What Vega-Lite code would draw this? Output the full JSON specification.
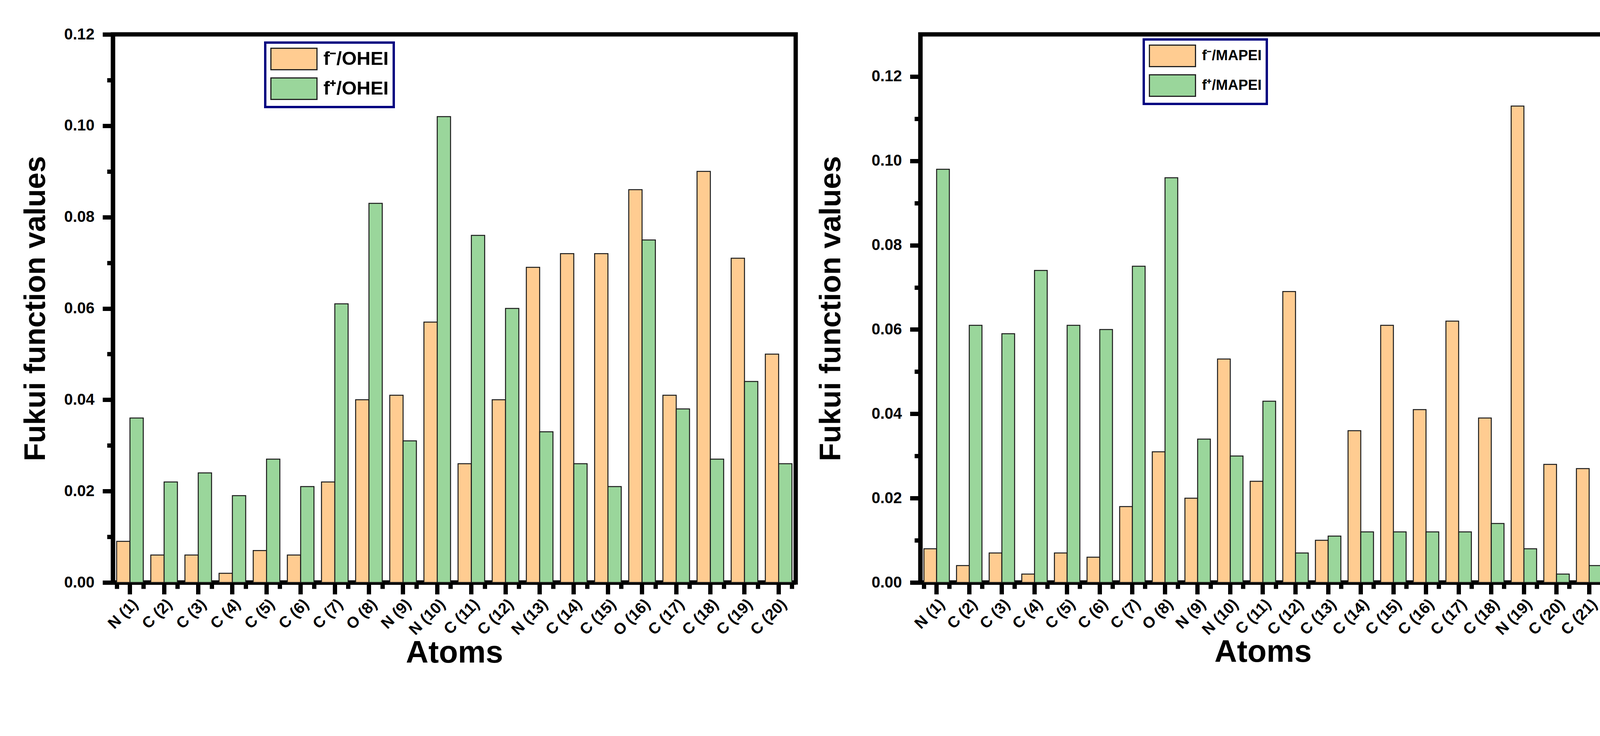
{
  "$schema": "https://vega.github.io/schema/vega-lite/v6.json",
  "padding": {"left": 48, "top": 62, "right": 0, "bottom": 0},
  "spacing": 41,
  "background": "white",
  "config": {
    "view": {"stroke": "black", "strokeWidth": 11},
    "axis": {"domainColor": "black", "tickColor": "black", "labelColor": "black", "titleColor": "black", "labelFont": "Liberation Sans", "titleFont": "Liberation Sans", "grid": false},
    "legend": {"strokeColor": "#000080", "strokeWidth": 6, "fillColor": "white", "padding": 13, "rowPadding": 8, "labelOffset": 78, "labelLimit": 0, "labelFont": "Liberation Sans", "labelFontWeight": "bold", "labelColor": "black", "symbolStrokeColor": "#222222", "symbolStrokeWidth": 3, "symbolOpacity": 1, "symbolType": "M-1,-1H3.29V1H-1Z", "symbolSize": 3025}
  },
  "resolve": {"scale": {"color": "independent", "y": "independent", "x": "independent"}, "legend": {"color": "independent"}},
  "hconcat": [
    {
      "width": 1748,
      "height": 1403,
      "data": {"values": [
        {"atom": "N (1)", "series": "f⁻/OHEI", "value": 0.009}, {"atom": "N (1)", "series": "f⁺/OHEI", "value": 0.036},
        {"atom": "C (2)", "series": "f⁻/OHEI", "value": 0.006}, {"atom": "C (2)", "series": "f⁺/OHEI", "value": 0.022},
        {"atom": "C (3)", "series": "f⁻/OHEI", "value": 0.006}, {"atom": "C (3)", "series": "f⁺/OHEI", "value": 0.024},
        {"atom": "C (4)", "series": "f⁻/OHEI", "value": 0.002}, {"atom": "C (4)", "series": "f⁺/OHEI", "value": 0.019},
        {"atom": "C (5)", "series": "f⁻/OHEI", "value": 0.007}, {"atom": "C (5)", "series": "f⁺/OHEI", "value": 0.027},
        {"atom": "C (6)", "series": "f⁻/OHEI", "value": 0.006}, {"atom": "C (6)", "series": "f⁺/OHEI", "value": 0.021},
        {"atom": "C (7)", "series": "f⁻/OHEI", "value": 0.022}, {"atom": "C (7)", "series": "f⁺/OHEI", "value": 0.061},
        {"atom": "O (8)", "series": "f⁻/OHEI", "value": 0.040}, {"atom": "O (8)", "series": "f⁺/OHEI", "value": 0.083},
        {"atom": "N (9)", "series": "f⁻/OHEI", "value": 0.041}, {"atom": "N (9)", "series": "f⁺/OHEI", "value": 0.031},
        {"atom": "N (10)", "series": "f⁻/OHEI", "value": 0.057}, {"atom": "N (10)", "series": "f⁺/OHEI", "value": 0.102},
        {"atom": "C (11)", "series": "f⁻/OHEI", "value": 0.026}, {"atom": "C (11)", "series": "f⁺/OHEI", "value": 0.076},
        {"atom": "C (12)", "series": "f⁻/OHEI", "value": 0.040}, {"atom": "C (12)", "series": "f⁺/OHEI", "value": 0.060},
        {"atom": "N (13)", "series": "f⁻/OHEI", "value": 0.069}, {"atom": "N (13)", "series": "f⁺/OHEI", "value": 0.033},
        {"atom": "C (14)", "series": "f⁻/OHEI", "value": 0.072}, {"atom": "C (14)", "series": "f⁺/OHEI", "value": 0.026},
        {"atom": "C (15)", "series": "f⁻/OHEI", "value": 0.072}, {"atom": "C (15)", "series": "f⁺/OHEI", "value": 0.021},
        {"atom": "O (16)", "series": "f⁻/OHEI", "value": 0.086}, {"atom": "O (16)", "series": "f⁺/OHEI", "value": 0.075},
        {"atom": "C (17)", "series": "f⁻/OHEI", "value": 0.041}, {"atom": "C (17)", "series": "f⁺/OHEI", "value": 0.038},
        {"atom": "C (18)", "series": "f⁻/OHEI", "value": 0.090}, {"atom": "C (18)", "series": "f⁺/OHEI", "value": 0.027},
        {"atom": "C (19)", "series": "f⁻/OHEI", "value": 0.071}, {"atom": "C (19)", "series": "f⁺/OHEI", "value": 0.044},
        {"atom": "C (20)", "series": "f⁻/OHEI", "value": 0.050}, {"atom": "C (20)", "series": "f⁺/OHEI", "value": 0.026}
      ]},
      "layer": [
        {
          "transform": [{"filter": {"field": "series", "equal": "f⁻/OHEI"}}],
          "mark": {"type": "bar", "stroke": "#1a1a1a", "strokeWidth": 2.5},
          "encoding": {
            "x": {"field": "atom", "type": "nominal", "sort": null, "title": "Atoms", "bandPosition": 0,
              "scale": {"paddingInner": 0.22, "paddingOuter": 0.11},
              "axis": {"orient": "bottom", "tickBand": "center", "labelAngle": -45, "labelFontSize": 40, "labelFontWeight": "bold", "labelPadding": 5, "tickSize": 30, "tickWidth": 11, "domainWidth": 11, "titleFontSize": 80, "titleFontWeight": "bold", "titlePadding": -2}},
            "x2": {"field": "atom", "bandPosition": 0.5},
            "y": {"field": "value", "type": "quantitative", "title": "Fukui function values", "stack": null,
              "scale": {"domain": [0, 0.12], "nice": false},
              "axis": {"orient": "left", "values": [0, 0.02, 0.04, 0.06, 0.08, 0.1, 0.12], "format": ".2f", "labelFontSize": 40, "labelFontWeight": "bold", "labelPadding": 21, "tickSize": 26.5, "tickWidth": 11, "domainWidth": 11, "titleFontSize": 76, "titleFontWeight": "bold", "titlePadding": 33}},
            "y2": {"datum": 0},
            "color": {"field": "series", "type": "nominal", "sort": null,
              "scale": {"domain": ["f⁻/OHEI", "f⁺/OHEI"], "range": ["#FFCC91", "#9AD69B"]},
              "legend": {"orient": "none", "legendX": 390, "legendY": 21, "title": null, "labelFontSize": 49}}
          }
        },
        {
          "transform": [{"filter": {"field": "series", "equal": "f⁺/OHEI"}}],
          "mark": {"type": "bar", "stroke": "#1a1a1a", "strokeWidth": 2.5},
          "encoding": {
            "x": {"field": "atom", "type": "nominal", "sort": null, "title": null, "bandPosition": 0.5,
              "axis": {"orient": "bottom", "tickBand": "extent", "labels": false, "domain": false, "tickSize": 16, "tickWidth": 11}},
            "x2": {"field": "atom", "bandPosition": 1},
            "y": {"field": "value", "type": "quantitative", "title": null, "stack": null,
              "axis": {"orient": "left", "values": [0.01, 0.03, 0.05, 0.07, 0.09, 0.11], "labels": false, "domain": false, "tickSize": 15, "tickWidth": 11}},
            "y2": {"datum": 0},
            "color": {"field": "series", "type": "nominal", "sort": null}
          }
        }
      ],
      "resolve": {"axis": {"x": "independent", "y": "independent"}}
    },
    {
      "width": 1754,
      "height": 1403,
      "data": {"values": [
        {"atom": "N (1)", "series": "f⁻/MAPEI", "value": 0.008}, {"atom": "N (1)", "series": "f⁺/MAPEI", "value": 0.098},
        {"atom": "C (2)", "series": "f⁻/MAPEI", "value": 0.004}, {"atom": "C (2)", "series": "f⁺/MAPEI", "value": 0.061},
        {"atom": "C (3)", "series": "f⁻/MAPEI", "value": 0.007}, {"atom": "C (3)", "series": "f⁺/MAPEI", "value": 0.059},
        {"atom": "C (4)", "series": "f⁻/MAPEI", "value": 0.002}, {"atom": "C (4)", "series": "f⁺/MAPEI", "value": 0.074},
        {"atom": "C (5)", "series": "f⁻/MAPEI", "value": 0.007}, {"atom": "C (5)", "series": "f⁺/MAPEI", "value": 0.061},
        {"atom": "C (6)", "series": "f⁻/MAPEI", "value": 0.006}, {"atom": "C (6)", "series": "f⁺/MAPEI", "value": 0.060},
        {"atom": "C (7)", "series": "f⁻/MAPEI", "value": 0.018}, {"atom": "C (7)", "series": "f⁺/MAPEI", "value": 0.075},
        {"atom": "O (8)", "series": "f⁻/MAPEI", "value": 0.031}, {"atom": "O (8)", "series": "f⁺/MAPEI", "value": 0.096},
        {"atom": "N (9)", "series": "f⁻/MAPEI", "value": 0.020}, {"atom": "N (9)", "series": "f⁺/MAPEI", "value": 0.034},
        {"atom": "N (10)", "series": "f⁻/MAPEI", "value": 0.053}, {"atom": "N (10)", "series": "f⁺/MAPEI", "value": 0.030},
        {"atom": "C (11)", "series": "f⁻/MAPEI", "value": 0.024}, {"atom": "C (11)", "series": "f⁺/MAPEI", "value": 0.043},
        {"atom": "C (12)", "series": "f⁻/MAPEI", "value": 0.069}, {"atom": "C (12)", "series": "f⁺/MAPEI", "value": 0.007},
        {"atom": "C (13)", "series": "f⁻/MAPEI", "value": 0.010}, {"atom": "C (13)", "series": "f⁺/MAPEI", "value": 0.011},
        {"atom": "C (14)", "series": "f⁻/MAPEI", "value": 0.036}, {"atom": "C (14)", "series": "f⁺/MAPEI", "value": 0.012},
        {"atom": "C (15)", "series": "f⁻/MAPEI", "value": 0.061}, {"atom": "C (15)", "series": "f⁺/MAPEI", "value": 0.012},
        {"atom": "C (16)", "series": "f⁻/MAPEI", "value": 0.041}, {"atom": "C (16)", "series": "f⁺/MAPEI", "value": 0.012},
        {"atom": "C (17)", "series": "f⁻/MAPEI", "value": 0.062}, {"atom": "C (17)", "series": "f⁺/MAPEI", "value": 0.012},
        {"atom": "C (18)", "series": "f⁻/MAPEI", "value": 0.039}, {"atom": "C (18)", "series": "f⁺/MAPEI", "value": 0.014},
        {"atom": "N (19)", "series": "f⁻/MAPEI", "value": 0.113}, {"atom": "N (19)", "series": "f⁺/MAPEI", "value": 0.008},
        {"atom": "C (20)", "series": "f⁻/MAPEI", "value": 0.028}, {"atom": "C (20)", "series": "f⁺/MAPEI", "value": 0.002},
        {"atom": "C (21)", "series": "f⁻/MAPEI", "value": 0.027}, {"atom": "C (21)", "series": "f⁺/MAPEI", "value": 0.004}
      ]},
      "layer": [
        {
          "transform": [{"filter": {"field": "series", "equal": "f⁻/MAPEI"}}],
          "mark": {"type": "bar", "stroke": "#1a1a1a", "strokeWidth": 2.5},
          "encoding": {
            "x": {"field": "atom", "type": "nominal", "sort": null, "title": "Atoms", "bandPosition": 0,
              "scale": {"paddingInner": 0.22, "paddingOuter": 0.11},
              "axis": {"orient": "bottom", "tickBand": "center", "labelAngle": -45, "labelFontSize": 40, "labelFontWeight": "bold", "labelPadding": 5, "tickSize": 30, "tickWidth": 11, "domainWidth": 11, "titleFontSize": 80, "titleFontWeight": "bold", "titlePadding": -2}},
            "x2": {"field": "atom", "bandPosition": 0.5},
            "y": {"field": "value", "type": "quantitative", "title": "Fukui function values", "stack": null,
              "scale": {"domain": [0, 0.13], "nice": false},
              "axis": {"orient": "left", "values": [0, 0.02, 0.04, 0.06, 0.08, 0.1, 0.12], "format": ".2f", "labelFontSize": 40, "labelFontWeight": "bold", "labelPadding": 21, "tickSize": 26.5, "tickWidth": 11, "domainWidth": 11, "titleFontSize": 76, "titleFontWeight": "bold", "titlePadding": 64}},
            "y2": {"datum": 0},
            "color": {"field": "series", "type": "nominal", "sort": null,
              "scale": {"domain": ["f⁻/MAPEI", "f⁺/MAPEI"], "range": ["#FFCC91", "#9AD69B"]},
              "legend": {"orient": "none", "legendX": 572, "legendY": 13, "title": null, "labelFontSize": 37}}
          }
        },
        {
          "transform": [{"filter": {"field": "series", "equal": "f⁺/MAPEI"}}],
          "mark": {"type": "bar", "stroke": "#1a1a1a", "strokeWidth": 2.5},
          "encoding": {
            "x": {"field": "atom", "type": "nominal", "sort": null, "title": null, "bandPosition": 0.5,
              "axis": {"orient": "bottom", "tickBand": "extent", "labels": false, "domain": false, "tickSize": 16, "tickWidth": 11}},
            "x2": {"field": "atom", "bandPosition": 1},
            "y": {"field": "value", "type": "quantitative", "title": null, "stack": null,
              "axis": {"orient": "left", "values": [0.01, 0.03, 0.05, 0.07, 0.09, 0.11], "labels": false, "domain": false, "tickSize": 15, "tickWidth": 11}},
            "y2": {"datum": 0},
            "color": {"field": "series", "type": "nominal", "sort": null}
          }
        }
      ],
      "resolve": {"axis": {"x": "independent", "y": "independent"}}
    }
  ]
}
